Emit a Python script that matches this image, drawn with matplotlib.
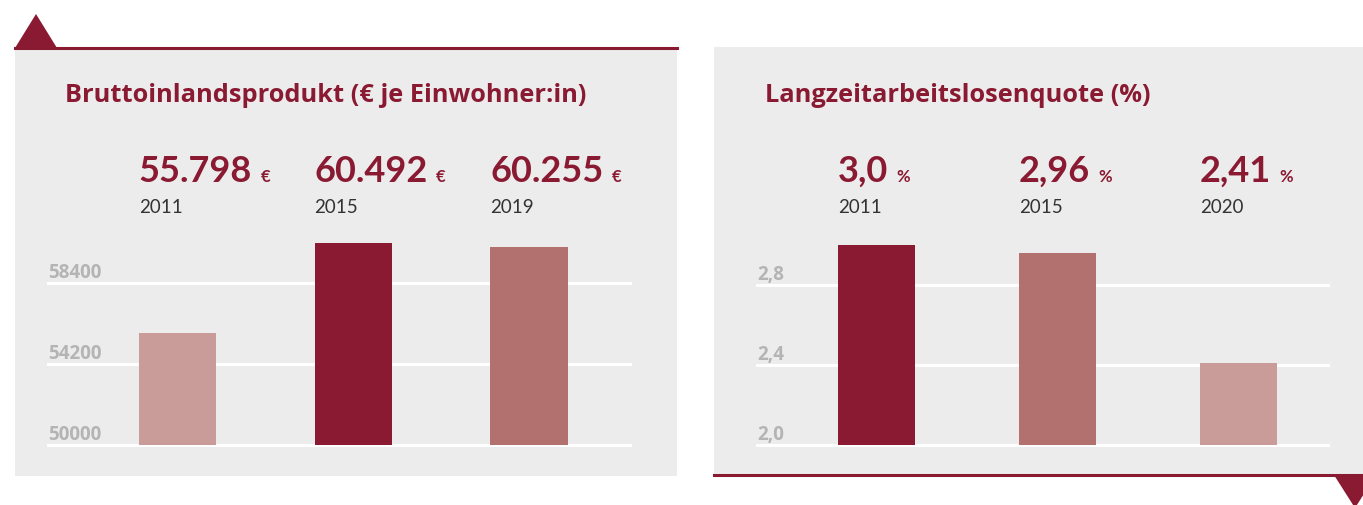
"""Two indicator cards: GDP per inhabitant and long-term unemployment rate."""
import matplotlib
matplotlib.use("Agg")
import matplotlib.pyplot as plt
from matplotlib.patches import Rectangle, Polygon
from matplotlib.lines import Line2D
from matplotlib.transforms import blended_transform_factory

W, H = 1363, 506
DARK = "#8a1a32"
MID = "#b2706f"
LIGHT = "#ca9c99"
PANEL = "#ececec"
TICK_GRAY = "#b4b4b4"

gdp_years = ["2011", "2015", "2019"]
gdp_values = [55798, 60492, 60255]
gdp_colors = [LIGHT, DARK, MID]
gdp_ticks = [50000, 54200, 58400]

ltu_years = ["2011", "2015", "2020"]
ltu_values = [3.0, 2.96, 2.41]
ltu_labels = ["3,0", "2,96", "2,41"]
ltu_colors = [DARK, MID, LIGHT]
ltu_ticks = [2.0, 2.4, 2.8]
ltu_tick_labels = ["2,0", "2,4", "2,8"]

plt.rcParams["font.family"] = ["Lato", "DejaVu Sans"]
WIDE_FONT = ["Open Sans", "DejaVu Sans"]


def fx(x):
    return x / W


def fy(y):
    return 1 - y / H


def card(fig, left, right, top, bottom):
    fig.add_artist(Rectangle((fx(left), fy(bottom)), fx(right - left), (bottom - top) / H,
                             transform=fig.transFigure, facecolor=PANEL, edgecolor="none", zorder=0))


def bar_panel(fig, box, xlim, ylim, values, colors, width, ticks, tick_labels,
              value_labels, unit, years):
    ax = fig.add_axes(box)
    ax.set_xlim(*xlim)
    ax.set_ylim(*ylim)
    ax.axis("off")
    for t in ticks:
        ax.axhline(t, color="white", lw=2.2, zorder=1, clip_on=False)
    xs = list(range(len(values)))
    ax.bar(xs, [v - ylim[0] for v in values], bottom=ylim[0], width=width,
           color=colors, zorder=2)

    ytrans = blended_transform_factory(ax.transAxes, ax.transData)
    for t, lab in zip(ticks, tick_labels):
        ax.annotate(lab, (0, t), xycoords=ytrans, xytext=(0, 4.5), textcoords="offset points",
                    ha="left", va="baseline", fontsize=13.5, fontweight="bold", color=TICK_GRAY,
                    family=WIDE_FONT)

    xtrans = blended_transform_factory(ax.transData, ax.transAxes)
    for x, lab, yr in zip(xs, value_labels, years):
        num = ax.text(x - width / 2, 1.222, lab, transform=xtrans, ha="left", va="baseline",
                      fontsize=26, fontweight="bold", color=DARK, clip_on=False)
        ax.annotate(unit, xy=(1, 0), xycoords=num, xytext=(6, 2), textcoords="offset points",
                    ha="left", va="bottom", fontsize=12, fontweight="bold", color=DARK)
        ax.text(x - width / 2, 1.079, yr, transform=xtrans, ha="left", va="baseline",
                fontsize=13.5, color="#333333", clip_on=False)
    return ax


fig = plt.figure(figsize=(W / 100, H / 100), dpi=100)
fig.patch.set_facecolor("white")

# left card: red rule on top with a triangle tab
card(fig, 15, 677, 49, 477)
fig.add_artist(Line2D([fx(15), fx(677)], [fy(49), fy(49)], transform=fig.transFigure,
                      color=DARK, lw=2.2, zorder=1))
fig.add_artist(Polygon([(fx(15), fy(49)), (fx(57), fy(49)), (fx(36), fy(15))], closed=True,
                       transform=fig.transFigure, facecolor=DARK, edgecolor="none", zorder=1))

# right card: red rule at the bottom with a downward tab
card(fig, 714, 1363, 48, 476)
fig.add_artist(Line2D([fx(714), fx(1363)], [fy(476), fy(476)], transform=fig.transFigure,
                      color=DARK, lw=2.2, zorder=1))
fig.add_artist(Polygon([(fx(1334), fy(476)), (fx(1376), fy(476)), (fx(1355), fy(509))], closed=True,
                       transform=fig.transFigure, facecolor=DARK, edgecolor="none", zorder=1))

fig.text(fx(65), fy(102), "Bruttoinlandsprodukt (€ je Einwohner:in)", ha="left", va="baseline",
         fontsize=18.3, fontweight="bold", color=DARK, family=WIDE_FONT)
fig.text(fx(765), fy(102), "Langzeitarbeitslosenquote (%)", ha="left", va="baseline",
         fontsize=18.3, fontweight="bold", color=DARK, family=WIDE_FONT)

gdp_labels = [f"{v:,}".replace(",", ".") for v in gdp_values]
bar_panel(fig, [fx(48), fy(446), (630 - 48) / W, 216 / H], (-0.736, 2.574), (50000, 61200),
          gdp_values, gdp_colors, 0.44, gdp_ticks, [str(t) for t in gdp_ticks],
          gdp_labels, "€", gdp_years)
bar_panel(fig, [fx(757), fy(446), (1328 - 757) / W, 216 / H], (-0.660, 2.494), (2.0, 3.08),
          ltu_values, ltu_colors, 0.425, ltu_ticks, ltu_tick_labels,
          ltu_labels, "%", ltu_years)

fig.savefig("out.png", dpi=100)
plt.close(fig)
